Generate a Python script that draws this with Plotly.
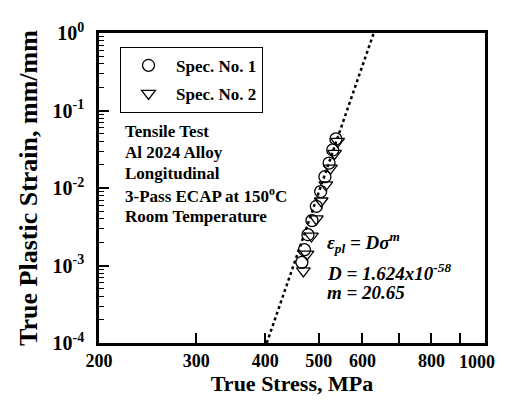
import plotly.graph_objects as go

# Data
spec1_stress = [466, 471, 478, 486, 495, 504, 513, 522, 530, 537]
spec1_strain = [0.0011, 0.0016, 0.0025, 0.0038, 0.0058, 0.0090, 0.0140, 0.0210, 0.0310, 0.0430]
spec2_stress = [469, 476, 485, 495, 505, 515, 525, 534, 541]
spec2_strain = [0.00085, 0.0014, 0.0024, 0.0040, 0.0068, 0.0110, 0.0180, 0.0280, 0.0400]

D_coef = 1.624e-58
m_exp = 20.65
fit_strain = [1e-4, 1.0]
fit_stress = [(e / D_coef) ** (1.0 / m_exp) for e in fit_strain]

x_tickvals = [200, 300, 400, 500, 600, 700, 800, 900, 1000]
x_ticktext = ["200", "300", "400", "500", "600", "", "800", "", ""]
x_last_label = "1000"
y_tickvals = [1e-4, 1e-3, 1e-2, 1e-1, 1]
y_ticktext = ["10<sup>-4</sup>", "10<sup>-3</sup>", "10<sup>-2</sup>", "10<sup>-1</sup>", "10<sup>0</sup>"]

FONT = "Liberation Serif"
L, R, T, B = 91, 31, 20, 66
PW, PH = 508 - L - R, 401 - T - B

def px(xp):
    return (xp - L) / PW

def py(yp):
    return (401 - B - yp) / PH

fig = go.Figure()
fig.add_trace(go.Scatter(x=fit_stress, y=fit_strain, mode="lines",
                         line=dict(color="black", width=2.5, dash="dot"),
                         showlegend=False))
fig.add_trace(go.Scatter(x=spec1_stress, y=spec1_strain, mode="markers", name="<b>Spec. No. 1</b>",
                         legendgroup="a",
                         marker=dict(symbol="circle-open", size=12, color="black", line=dict(width=1.3))))
fig.add_trace(go.Scatter(x=spec2_stress, y=spec2_strain, mode="markers", name="<b>Spec. No. 2</b>",
                         legendgroup="b",
                         marker=dict(symbol="triangle-down-open", size=12, color="black", line=dict(width=1.3))))

fig.update_layout(
    width=508, height=401,
    margin=dict(l=L, r=R, t=T, b=B),
    paper_bgcolor="white", plot_bgcolor="white",
    font=dict(family=FONT, color="black", size=15),
    legend=dict(x=px(112), y=py(34), xanchor="left", yanchor="top",
                bgcolor="white", bordercolor="black", borderwidth=1,
                font=dict(family=FONT, size=17, color="black"),
                itemwidth=45, tracegroupgap=3, traceorder="grouped"),
    showlegend=True,
)
fig.update_xaxes(type="log", range=[2.30103, 3.0],
                 tickvals=x_tickvals, ticktext=["<b>" + t + "</b>" if t else "" for t in x_ticktext],
                 ticks="inside", ticklen=10, tickwidth=1.5, tickcolor="black",
                 showline=True, linewidth=2.5, linecolor="black", mirror=True,
                 showgrid=False, zeroline=False,
                 tickfont=dict(family=FONT, size=18, color="black"),
                 title=dict(text="<b>True Stress, MPa</b>", font=dict(family=FONT, size=22), standoff=6))
fig.update_yaxes(type="log", range=[-4, 0],
                 tickvals=y_tickvals, ticktext=["<b>" + t + "</b>" for t in y_ticktext],
                 ticks="inside", ticklen=10, tickwidth=1.5, tickcolor="black",
                 minor=dict(ticks="inside", ticklen=5, tickwidth=1, tickcolor="black",
                            tickvals=[k * 10 ** d for d in range(-4, 0) for k in range(2, 10)]),
                 showline=True, linewidth=2.5, linecolor="black", mirror=True,
                 showgrid=False, zeroline=False, ticklabelstandoff=8,
                 tickfont=dict(family=FONT, size=20, color="black"),
                 title=dict(text="<b>True Plastic Strain, mm/mm</b>", font=dict(family=FONT, size=26), standoff=8))

# last x tick label, nudged left so it stays inside the figure (as in the reference)
fig.add_annotation(xref="x", yref="paper", x=3.0, y=0, xanchor="center", yanchor="top",
                   xshift=-8, yshift=-7, showarrow=False,
                   text="<b>" + x_last_label + "</b>", font=dict(family=FONT, size=18, color="black"))

notes = ["Tensile Test", "Al 2024 Alloy", "Longitudinal", "3-Pass ECAP at 150<sup>o</sup>C", "Room Temperature"]
for i, t in enumerate(notes):
    fig.add_annotation(xref="paper", yref="paper", x=px(115), y=py(120 + 21.5 * i),
                       text="<b>" + t + "</b>", showarrow=False, xanchor="left", yanchor="middle",
                       font=dict(family=FONT, size=17, color="black"))

eqs = [("<b><i>ε<sub>pl</sub> = Dσ<sup>m</sup></i></b>", 233),
       ("<b><i>D = 1.624x10<sup>-58</sup></i></b>", 263),
       ("<b><i>m = 20.65</i></b>", 284)]
for t, ypx in eqs:
    fig.add_annotation(xref="paper", yref="paper", x=px(317), y=py(ypx),
                       text=t, showarrow=False, xanchor="left", yanchor="middle",
                       font=dict(family=FONT, size=19, color="black"))

fig.write_html("out.html")
